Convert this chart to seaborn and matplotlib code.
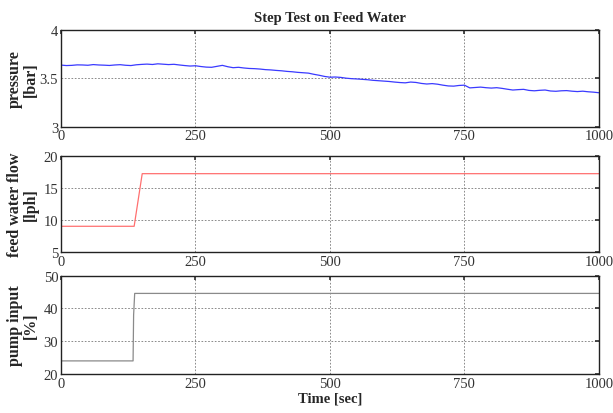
import matplotlib
matplotlib.use("Agg")
import matplotlib.pyplot as plt
import pandas as pd
import seaborn as sns

# pressure trace, read every 10 s
p_time = list(range(0, 1001, 10))
p_bar = [3.635, 3.630, 3.632, 3.637, 3.636, 3.633, 3.640, 3.636, 3.634, 3.631,
         3.636, 3.639, 3.633, 3.630, 3.638, 3.642, 3.645, 3.641, 3.648, 3.644,
         3.640, 3.643, 3.636, 3.630, 3.625, 3.628, 3.620, 3.614, 3.612, 3.622,
         3.632, 3.618, 3.608, 3.612, 3.605, 3.600, 3.598, 3.594, 3.588, 3.585,
         3.580, 3.576, 3.570, 3.566, 3.560, 3.556, 3.552, 3.540, 3.530, 3.518,
         3.510, 3.512, 3.508, 3.500, 3.495, 3.492, 3.488, 3.484, 3.478, 3.474,
         3.470, 3.466, 3.460, 3.455, 3.452, 3.460, 3.456, 3.446, 3.440, 3.444,
         3.438, 3.428, 3.420, 3.418, 3.425, 3.428, 3.400, 3.404, 3.408, 3.402,
         3.398, 3.402, 3.395, 3.386, 3.378, 3.382, 3.385, 3.374, 3.370, 3.375,
         3.378, 3.368, 3.365, 3.370, 3.372, 3.366, 3.362, 3.366, 3.360, 3.356,
         3.350]

# feed water flow step
f_time = [0, 136, 151, 1000]
f_lph = [9.0, 9.0, 17.2, 17.2]

# pump input step
u_time = [0, 134, 135, 137, 1000]
u_pct = [24.0, 24.0, 38.0, 44.6, 44.6]

x_ticks = [0, 250, 500, 750, 1000]

sns.set_theme(style="white")
plt.rcParams["font.family"] = ["Liberation Serif", "DejaVu Serif"]

fig = plt.figure(figsize=(6.13, 4.14), dpi=100)
left, width = 0.0995, 0.8775
boxes = [(0.6915, 0.2345), (0.389, 0.2325), (0.0942, 0.2374)]
axes = [fig.add_axes([left, b, width, h]) for b, h in boxes]

panels = [
    (p_time, p_bar, "#3a3aff", "pressure\n[bar]", (3, 4), [3, 3.5, 4], ["3", "3.5", "4"]),
    (f_time, f_lph, "#ff7070", "feed water flow\n[lph]", (5, 20), [5, 10, 15, 20], None),
    (u_time, u_pct, "#8a8a8a", "pump input\n[%]", (20, 50), [20, 30, 40, 50], None),
]

for ax, (t, v, col, lab, ylim, yt, ytl) in zip(axes, panels):
    df = pd.DataFrame({"t": t, "v": v})
    sns.lineplot(data=df, x="t", y="v", ax=ax, color=col, linewidth=0.9)
    ax.set_xlim(0, 1000)
    ax.set_ylim(*ylim)
    ax.set_xticks(x_ticks)
    ax.set_yticks(yt)
    if ytl:
        ax.set_yticklabels(ytl)
    ax.grid(True, linestyle=(0, (2, 2)), color="#777777", linewidth=0.6)
    ax.tick_params(direction="in", length=3, top=True, right=True,
                   labelsize=10.5, colors="#333333", pad=2)
    for s in ax.spines.values():
        s.set_color("#222222")
        s.set_linewidth(1.0)
    ax.set_ylabel(lab, fontsize=11.5, fontweight="bold", linespacing=0.95)
    ax.yaxis.set_label_coords(-0.042, 0.5)
    ax.set_xlabel("")

axes[0].set_title("Step Test on Feed Water", fontsize=10.5, fontweight="bold", pad=6)
axes[2].set_xlabel("Time [sec]", fontsize=10.5, fontweight="bold", labelpad=1)

fig.savefig("out.png", dpi=100)
